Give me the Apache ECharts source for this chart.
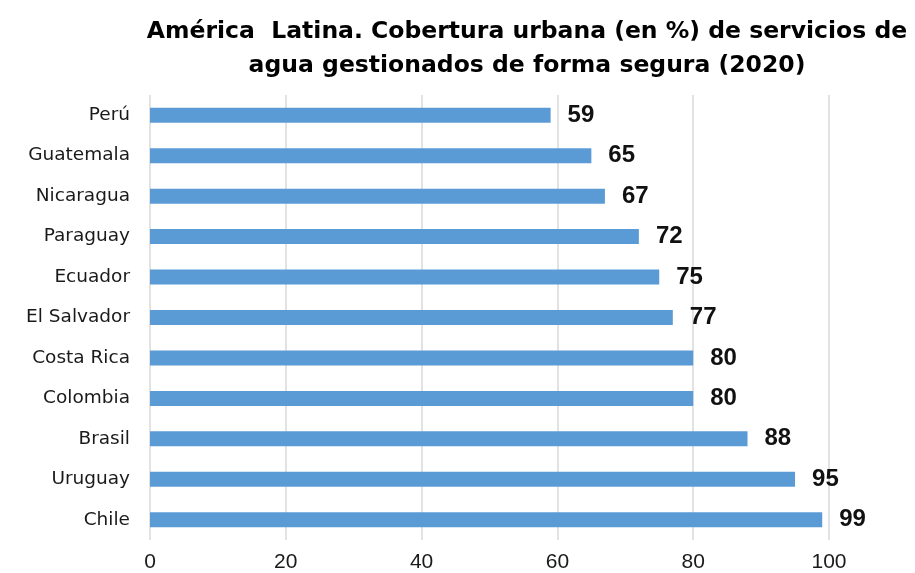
<!DOCTYPE html>
<html>
	<head>
		<meta charset="UTF-8">
		<title>Cobertura urbana de agua</title>
		<script type="text/javascript" src="https://cdn.jsdelivr.net/npm/echarts@6/dist/echarts.min.js"></script>
		<style>
			html,body{margin:0;padding:0;background:#fff;}
			#bar-char{width:915px;height:573px;}
		</style>
	</head>
	<body>
		<div id="bar-char"></div>
	</body>
</html>
<script type="text/javascript">
	var paises = ['Perú','Guatemala','Nicaragua','Paraguay','Ecuador','El Salvador','Costa Rica','Colombia','Brasil','Uruguay','Chile'];
	var cobertura = [59,65,67,72,75,77,80,80,88,95,99];
	var ticksX = [0,20,40,60,80,100];

	var arial = '"Liberation Sans", Arial, sans-serif';
	var dejavu = '"DejaVu Sans", sans-serif';

	function coberturaChart(){
		var barChar = echarts.init(document.getElementById('bar-char'));
		var options = {
			animation:false,
			title:{
				text:'América  Latina. Cobertura urbana (en %) de servicios de\nagua gestionados de forma segura (2020)',
				left:522,
				textAlign:'center',
				top:10,
				textStyle:{
					fontFamily:dejavu,
					fontSize:23.5,
					fontWeight:'bold',
					color:'#000',
					lineHeight:34
				}
			},
			grid:{
				left:150,
				right:86,
				top:95,
				bottom:33
			},
			xAxis:{
				type:'value',
				min:ticksX[0],
				max:ticksX[ticksX.length-1],
				interval:20,
				axisLine:{show:false},
				axisTick:{show:false},
				axisLabel:{
					fontFamily:arial,
					color:'#1a1a1a',
					fontSize:21,
					margin:12
				},
				splitLine:{
					lineStyle:{color:'#d9d9d9',width:1.5}
				}
			},
			yAxis:{
				type:'category',
				inverse:true,
				data:paises,
				axisLine:{show:false},
				axisTick:{show:false},
				axisLabel:{
					fontFamily:dejavu,
					color:'#1a1a1a',
					fontSize:18.5,
					margin:20
				}
			},
			series:[{
				type:'bar',
				data:cobertura,
				barWidth:15,
				itemStyle:{color:'#5b9bd5'},
				label:{
					show:true,
					position:'right',
					distance:17,
					fontFamily:arial,
					color:'#111',
					fontSize:24,
					fontWeight:'bold'
				}
			}]
		};
		barChar.setOption(options);
	}
	coberturaChart();
</script>
